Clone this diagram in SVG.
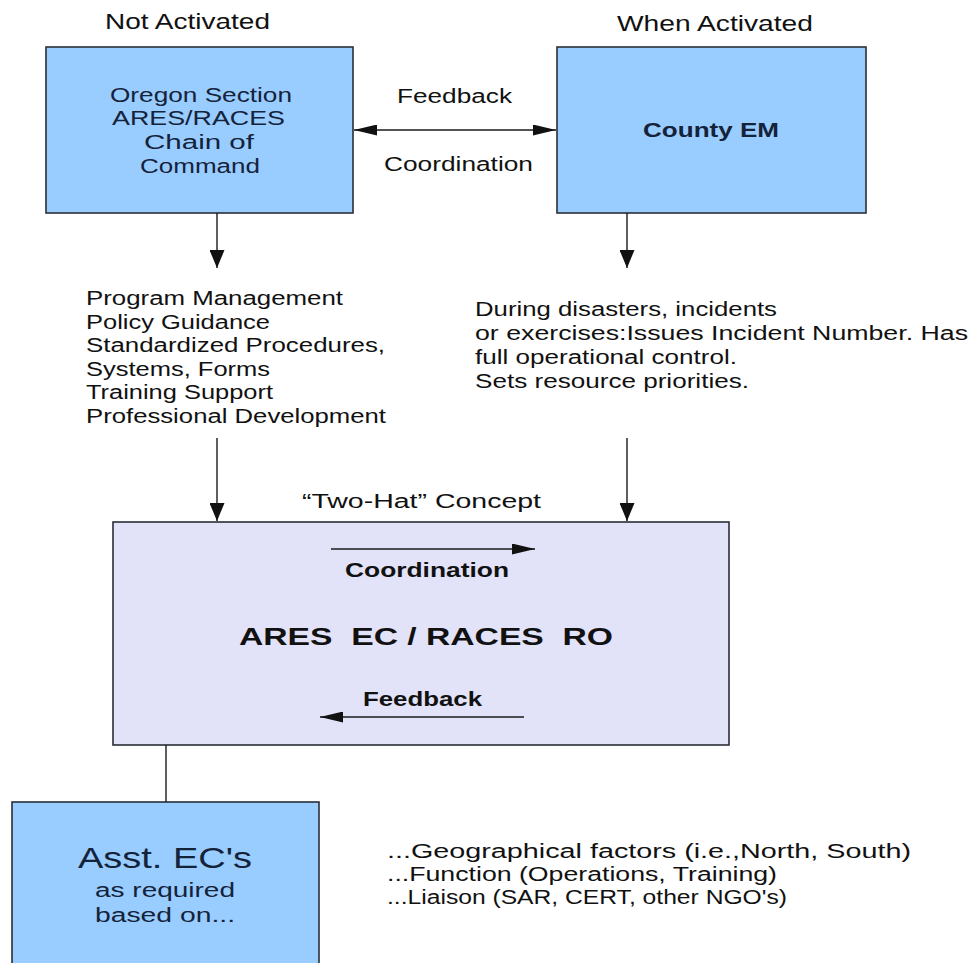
<svg xmlns="http://www.w3.org/2000/svg" width="969" height="963" viewBox="0 0 969 963">
<style>
text{font-family:"Liberation Sans",Arial,sans-serif;font-size:20px;fill:#111}
.bx{fill:#99ccff;stroke:#2a2f36;stroke-width:1.6}
.big{fill:#e2e2f9;stroke:#2a2f36;stroke-width:1.6}
.nt{fill:#14233a}
.b{font-weight:bold}
.ln{stroke:#1a1a1a;stroke-width:1.4;fill:none}
</style>
<defs>
<marker id="ah" viewBox="0 0 18 15" refX="18" refY="7.5" markerWidth="18" markerHeight="15" markerUnits="userSpaceOnUse" orient="auto-start-reverse"><path d="M0,0 L18,7.5 L0,15 z" fill="#111"/></marker>
<marker id="ahs" viewBox="0 0 23 11" refX="23" refY="5.5" markerWidth="23" markerHeight="11" markerUnits="userSpaceOnUse" orient="auto-start-reverse"><path d="M0,0 L23,5.5 L0,11 z" fill="#111"/></marker>
</defs>
<rect width="969" height="963" fill="#fff"/>

<text x="105" y="29" textLength="165" lengthAdjust="spacingAndGlyphs" style="font-size:22px">Not Activated</text>
<text x="617" y="31" textLength="196" lengthAdjust="spacingAndGlyphs" style="font-size:22px">When Activated</text>

<g id="node-oregon">
<rect class="bx" x="46" y="47" width="307" height="166"/>
<text class="nt" x="110" y="102" textLength="182" lengthAdjust="spacingAndGlyphs">Oregon Section</text>
<text class="nt" x="112" y="125" textLength="173" lengthAdjust="spacingAndGlyphs">ARES/RACES</text>
<text class="nt" x="144" y="149" textLength="110" lengthAdjust="spacingAndGlyphs">Chain of</text>
<text class="nt" x="140" y="173" textLength="120" lengthAdjust="spacingAndGlyphs">Command</text>
</g>

<g id="node-county">
<rect class="bx" x="557" y="47" width="309" height="166"/>
<text class="nt b" x="643" y="137" textLength="136" lengthAdjust="spacingAndGlyphs">County EM</text>
</g>

<g id="node-ares">
<rect class="big" x="113" y="522" width="616" height="223"/>
<text class="b" x="345" y="577" textLength="164" lengthAdjust="spacingAndGlyphs">Coordination</text>
<text class="b" x="239" y="645" textLength="374" lengthAdjust="spacingAndGlyphs" style="font-size:24px;white-space:pre" xml:space="preserve">ARES  EC / RACES  RO</text>
<text class="b" x="363" y="706" textLength="119" lengthAdjust="spacingAndGlyphs">Feedback</text>
</g>

<g id="node-asst">
<rect class="bx" x="12" y="802" width="307" height="175"/>
<text class="nt" x="78" y="868" textLength="174" lengthAdjust="spacingAndGlyphs" style="font-size:29px">Asst. EC's</text>
<text class="nt" x="95" y="897" textLength="140" lengthAdjust="spacingAndGlyphs">as required</text>
<text class="nt" x="95" y="922" textLength="140" lengthAdjust="spacingAndGlyphs">based on...</text>
</g>

<g id="labels">
<text x="397" y="103" textLength="115" lengthAdjust="spacingAndGlyphs">Feedback</text>
<text x="384" y="171" textLength="149" lengthAdjust="spacingAndGlyphs">Coordination</text>
<text x="86" y="305" textLength="257" lengthAdjust="spacingAndGlyphs">Program Management</text>
<text x="86" y="328.5" textLength="184" lengthAdjust="spacingAndGlyphs">Policy Guidance</text>
<text x="86" y="352" textLength="299" lengthAdjust="spacingAndGlyphs">Standardized Procedures,</text>
<text x="86" y="375.5" textLength="184" lengthAdjust="spacingAndGlyphs">Systems, Forms</text>
<text x="86" y="399" textLength="187" lengthAdjust="spacingAndGlyphs">Training Support</text>
<text x="86" y="422.5" textLength="300" lengthAdjust="spacingAndGlyphs">Professional Development</text>
<text x="475" y="316" textLength="302" lengthAdjust="spacingAndGlyphs">During disasters, incidents</text>
<text x="475" y="340" textLength="493" lengthAdjust="spacingAndGlyphs">or exercises:Issues Incident Number. Has</text>
<text x="475" y="364" textLength="262" lengthAdjust="spacingAndGlyphs">full operational control.</text>
<text x="475" y="388" textLength="274" lengthAdjust="spacingAndGlyphs">Sets resource priorities.</text>
<text x="302" y="508" textLength="239" lengthAdjust="spacingAndGlyphs">“Two-Hat” Concept</text>
<text x="387" y="858" textLength="524" lengthAdjust="spacingAndGlyphs">...Geographical factors (i.e.,North, South)</text>
<text x="387" y="881" textLength="390" lengthAdjust="spacingAndGlyphs">...Function (Operations, Training)</text>
<text x="387" y="904" textLength="400" lengthAdjust="spacingAndGlyphs">...Liaison (SAR, CERT, other NGO's)</text>
</g>

<g id="connectors">
<line class="ln" x1="354" y1="130" x2="556" y2="130" marker-start="url(#ahs)" marker-end="url(#ahs)"/>
<line class="ln" x1="217" y1="213" x2="217" y2="268" marker-end="url(#ah)"/>
<line class="ln" x1="627" y1="213" x2="627" y2="268" marker-end="url(#ah)"/>
<line class="ln" x1="217" y1="438" x2="217" y2="521" marker-end="url(#ah)"/>
<line class="ln" x1="627" y1="438" x2="627" y2="521" marker-end="url(#ah)"/>
<line class="ln" x1="331" y1="549" x2="535" y2="549" marker-end="url(#ahs)"/>
<line class="ln" x1="524" y1="717" x2="320" y2="717" marker-end="url(#ahs)"/>
<line class="ln" x1="166" y1="745" x2="166" y2="802"/>
</g>
</svg>
